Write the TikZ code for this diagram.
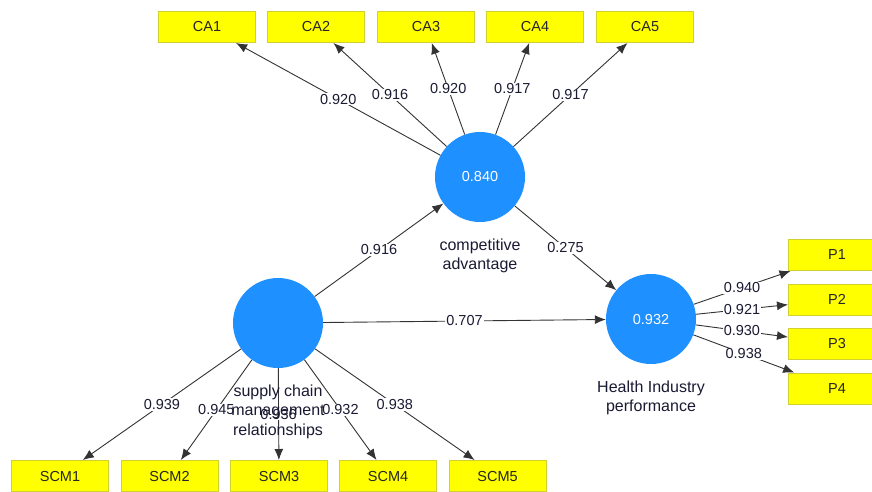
\documentclass[tikz,border=0pt]{standalone}
\usepackage{fontspec}
\setmainfont{Liberation Sans}
\usetikzlibrary{arrows.meta}
\definecolor{lvblue}{HTML}{1E90FF}
\definecolor{indfill}{HTML}{FFFF00}
\definecolor{indborder}{HTML}{D0D030}
\definecolor{lbl}{HTML}{1A1A33}
\begin{document}
\begin{tikzpicture}[x=1pt,y=-1pt,
 lv/.style={circle, fill=lvblue, minimum size=90pt, inner sep=0pt, text=white, font=\fontsize{14.5}{16}\selectfont},
 ind/.style={rectangle, fill=indfill, draw=indborder, line width=1pt, minimum width=97pt, minimum height=31pt, inner sep=0pt, font=\fontsize{14.5}{16}\selectfont, text=black!85},
 lvname/.style={align=center, font=\fontsize{16}{19.5}\selectfont, text=lbl, anchor=north, inner sep=0pt},
 link/.style={draw=black!80, line width=0.9pt, -{Latex[length=11pt,width=9pt]}},
 coef/.style={fill=white, inner sep=1pt, font=\fontsize{14.5}{16}\selectfont, text=lbl, pos=0.5}
]
\fill[white] (0,0) rectangle (872,491);
\useasboundingbox (0,0) rectangle (872,491);

% latent variables
\node[lv] (ca)  at (480,177) {0.840};
\node[lv] (scm) at (278,323) {};
\node[lv] (hip) at (651,319) {0.932};

% indicators
\node[ind] (ca1) at (207,27) {CA1};
\node[ind] (ca2) at (316,27) {CA2};
\node[ind] (ca3) at (426,27) {CA3};
\node[ind] (ca4) at (535,27) {CA4};
\node[ind] (ca5) at (645,27) {CA5};

\node[ind] (scm1) at (60,476) {SCM1};
\node[ind] (scm2) at (169.5,476) {SCM2};
\node[ind] (scm3) at (279,476) {SCM3};
\node[ind] (scm4) at (388,476) {SCM4};
\node[ind] (scm5) at (497.5,476) {SCM5};

\node[ind] (p1) at (837,255) {P1};
\node[ind] (p2) at (837,299.5) {P2};
\node[ind] (p3) at (837,343.5) {P3};
\node[ind] (p4) at (837,388.5) {P4};

% outer loadings CA
\draw[link] (ca) -- node[coef] {0.920} (ca1);
\draw[link] (ca) -- node[coef] {0.916} (ca2);
\draw[link] (ca) -- node[coef] {0.920} (ca3);
\draw[link] (ca) -- node[coef] {0.917} (ca4);
\draw[link] (ca) -- node[coef] {0.917} (ca5);

% outer loadings SCM
\draw[link] (scm) -- node[coef] {0.939} (scm1);
\draw[link] (scm) -- node[coef] {0.945} (scm2);
\draw[link] (scm) -- node[coef] {0.936} (scm3);
\draw[link] (scm) -- node[coef] {0.932} (scm4);
\draw[link] (scm) -- node[coef] {0.938} (scm5);

% outer loadings P
\draw[link] (hip) -- node[coef] {0.940} (p1);
\draw[link] (hip) -- node[coef] {0.921} (p2);
\draw[link] (hip) -- node[coef] {0.930} (p3);
\draw[link] (hip) -- node[coef] {0.938} (p4);

% structural paths
\draw[link] (scm) -- node[coef] {0.916} (ca);
\draw[link] (scm) -- node[coef] {0.707} (hip);
\draw[link] (ca) -- node[coef] {0.275} (hip);

% latent variable names
\node[lvname] (caname) at ([yshift=-16pt]ca.south) {competitive\\advantage};
\node[lvname] (scmname) at ([yshift=-16pt]scm.south) {supply chain\\management\\relationships};
\node[lvname] (hipname) at ([yshift=-16pt]hip.south) {Health Industry\\performance};
\end{tikzpicture}
\end{document}
